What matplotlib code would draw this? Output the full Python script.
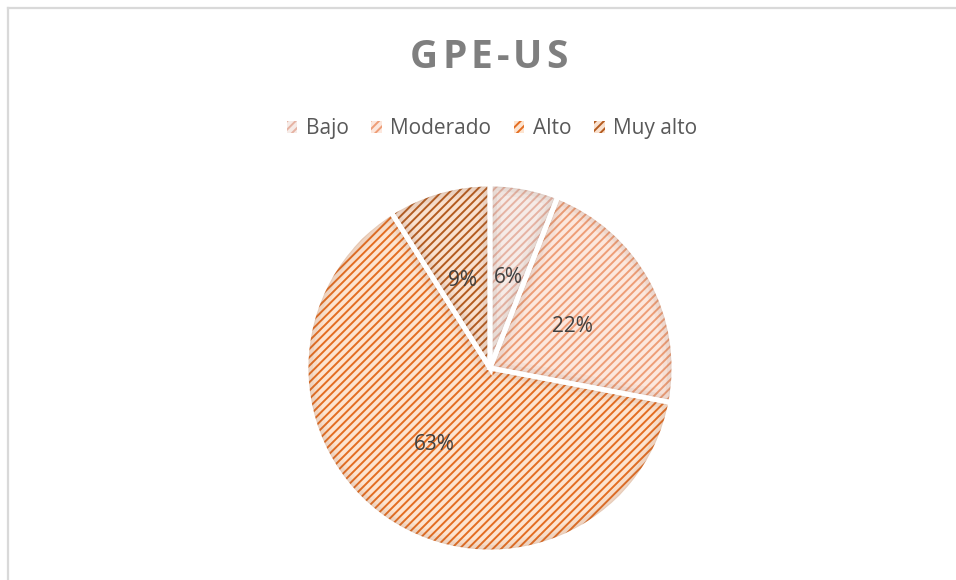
import matplotlib.pyplot as plt
from matplotlib.lines import Line2D
from matplotlib.patches import Wedge

plt.rcParams['font.family'] = ['Open Sans', 'DejaVu Sans']
plt.rcParams['hatch.linewidth'] = 1.4

categories = ['Bajo', 'Moderado', 'Alto', 'Muy alto']
values = [6, 22, 63, 9]
face_colors = ['#f6ebe7', '#fce7dd', '#fde4d0', '#f9e1cf']
stripe_colors = ['#e6b3a3', '#ee9d76', '#e46d21', '#b45b1f']
title = 'GPE-US'

fig = plt.figure(figsize=(9.56, 5.8), dpi=100)

# chart frame (top and left edges only are visible)
fig.add_artist(Line2D([8 / 956, 1], [1 - 8 / 580, 1 - 8 / 580], color='#d9d9d9', lw=1.6))
fig.add_artist(Line2D([8 / 956, 8 / 956], [0, 1 - 8 / 580], color='#d9d9d9', lw=1.6))

cx, cy, r = 490, 368, 184
ax = fig.add_axes([(cx - r) / 956, (580 - cy - r) / 580, 2 * r / 956, 2 * r / 580])

wedges, _ = ax.pie(values, startangle=90, counterclock=False, radius=1.0)
for w, fc, sc in zip(wedges, face_colors, stripe_colors):
    w.set_facecolor(fc)
    w.set_edgecolor(sc)
    w.set_hatch('////')
    w.set_linewidth(0)

# soft inner shadow along each slice border
for w in wedges:
    for lw, a in [(16, 0.05), (10, 0.07), (5, 0.09)]:
        sh = Wedge(w.center, w.r, w.theta1, w.theta2, fill=False,
                   edgecolor='#8a6a5a', linewidth=lw, alpha=a)
        ax.add_patch(sh)
        sh.set_clip_path(w)

# white separators drawn on top
outline, _ = ax.pie(values, startangle=90, counterclock=False, radius=1.0,
                    wedgeprops=dict(fill=False, edgecolor='white', linewidth=3.5))

label_pos = [(0.098, 0.49), (0.446, 0.228), (-0.304, -0.418), (-0.147, 0.478)]
total = sum(values)
for (lx, ly), v in zip(label_pos, values):
    ax.text(lx, ly, f'{round(100 * v / total)}%', ha='center', va='center',
            fontsize=15, color='#404040')
ax.set_xlim(-1, 1)
ax.set_ylim(-1, 1)
ax.set_aspect('equal')

# title with letter spacing
renderer = fig.canvas.get_renderer()
tprops = dict(fontsize=28, fontweight='bold', color='#7f7f7f')
spacing = 4
widths = []
for ch in title:
    t = fig.text(0, 0, ch, **tprops)
    widths.append(t.get_window_extent(renderer).width)
    t.remove()
total_w = sum(widths) + spacing * (len(title) - 1)
x = 489 - total_w / 2
for ch, w in zip(title, widths):
    fig.text(x / 956, 1 - 57 / 580, ch, ha='left', va='center', **tprops)
    x += w + spacing

fig.legend(wedges, categories, loc='center', bbox_to_anchor=(492 / 956, 1 - 129 / 580),
           ncol=4, frameon=False, fontsize=15, labelcolor='#595959',
           handlelength=0.5, handleheight=0.5, handletextpad=0.4, columnspacing=1.1)

fig.savefig('out.png', dpi=100)
